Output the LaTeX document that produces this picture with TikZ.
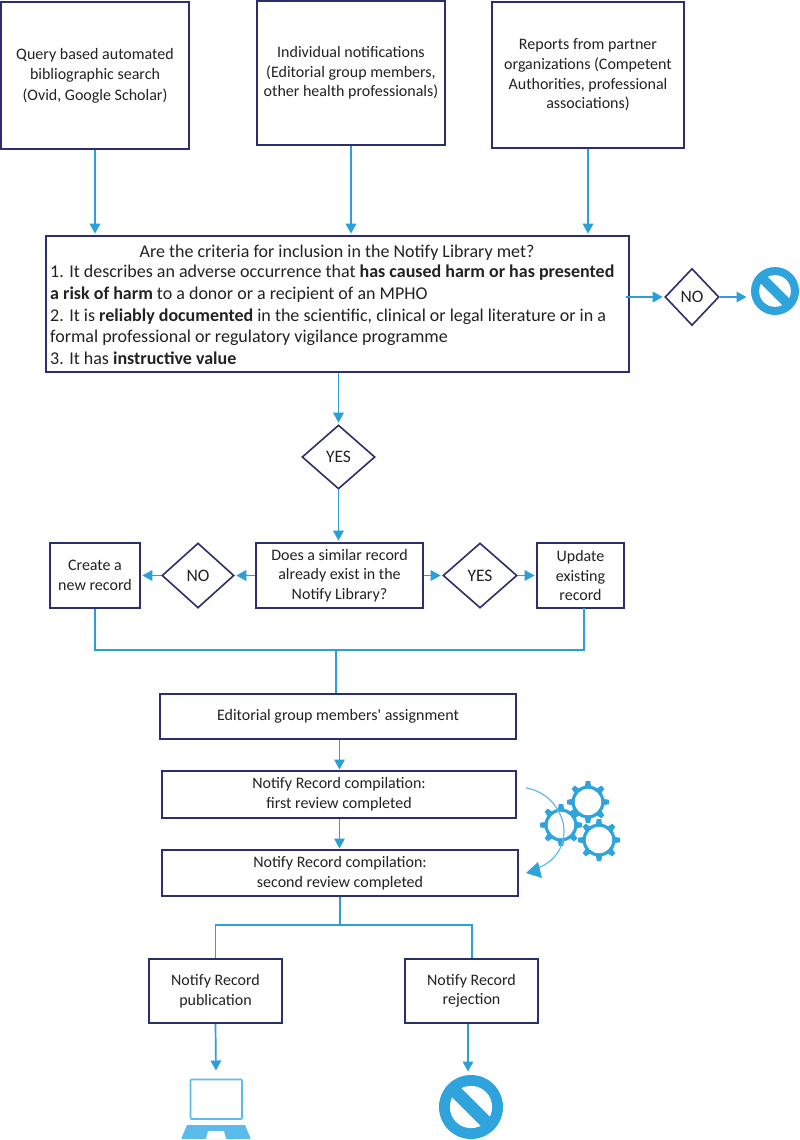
\documentclass[tikz,border=0pt]{standalone}
\usepackage{fontspec}
\setmainfont{Carlito}
\newfontfamily\plainf{Carlito}
\usetikzlibrary{shapes.geometric,arrows.meta,calc}
\definecolor{boxc}{HTML}{2B2F6B}
\definecolor{arrc}{HTML}{2A9FD8}
\definecolor{icon}{HTML}{2EA3DC}
\definecolor{lap}{HTML}{5ABBEC}
\definecolor{txt}{HTML}{222222}
\tikzset{
  x=1pt,y=-1pt,
  every node/.style={text=txt,font=\fontsize{16}{19.6}\selectfont},
  flowbox/.style={draw=boxc,line width=1.7pt,fill=white,rectangle,inner sep=0pt,align=center},
  choice/.style={draw=boxc,line width=1.6pt,fill=white,diamond,aspect=1,inner sep=0pt,font=\fontsize{17.5}{20}\selectfont},
  arr/.style={draw=arrc,line width=1.7pt,shorten >=1.5pt,-{Triangle[length=10pt,width=10.5pt]}},
  wire/.style={draw=arrc,line width=1.5pt},
  pics/stopsign/.style={code={
    \fill[icon] (0,0) circle[radius=#1];
    \fill[white] (0,0) circle[radius=0.66*#1];
    \fill[icon,rotate=-45] (-0.8*#1,-0.2*#1) rectangle (0.8*#1,0.2*#1);
  }},
  pics/gearicon/.style={code={
    \foreach \a in {0,45,...,315}{
      \fill[icon,rotate=\a] (-2.2,-21) -- (2.2,-21) -- (3.4,-14) -- (-3.4,-14) -- cycle;
    }
    \fill[icon] (0,0) circle[radius=16.5];
    \fill[white] (0,0) circle[radius=13.2];
  }},
}
\newcommand{\placebox}[6]{% name, x1,y1,x2,y2,text
  \node[flowbox,minimum width=#4pt-#2pt,minimum height=#5pt-#3pt] (#1) at ({(#2+#4)/2},{(#3+#5)/2}) {#6};}
\newcommand{\placechoice}[6]{% name,cx,cy,text,w,h
  \node[choice,minimum width=#5pt,minimum height=#6pt] (#1) at (#2,#3) {#4};}
\begin{document}
\begin{tikzpicture}
\useasboundingbox (0,0) rectangle (800,1140);
\placebox{srcA}{1}{2}{189}{149}{Query based automated\\[1pt] bibliographic search\\[1pt] (Ovid, Google Scholar)}
\placebox{srcB}{257}{1}{445}{145}{Individual notifications\\ (Editorial group members,\\ other health professionals)}
\placebox{srcC}{492}{2}{684}{148}{Reports from partner\\ organizations (Competent\\ Authorities, professional\\ associations)}
\node[flowbox,minimum width=583pt,minimum height=136pt] (crit) at (337.5,304) {};
\node[align=left,anchor=north west,font=\fontsize{18}{21.7}\selectfont,inner sep=0pt] (critxt) at (50,265) {%
1. It describes an adverse occurrence that \textbf{has caused harm or has presented}\\
\textbf{a risk of harm} to a donor or a recipient of an MPHO\\
2. It is \textbf{reliably documented} in the scientific, clinical or legal literature or in a\\
formal professional or regulatory vigilance programme\\
3. It has \textbf{instructive value}};
\node[font=\fontsize{18}{20}\selectfont,inner sep=0pt,anchor=base] (crith) at (337,257) {Are the criteria for inclusion in the Notify Library met?};
\placechoice{noA}{692}{297}{NO}{54}{57}
\placechoice{yesA}{338.5}{457}{YES}{73}{64}
\placebox{similar}{256}{543}{423}{608}{Does a similar record\\ already exist in the\\ Notify Library?}
\placebox{create}{50}{543}{140}{608}{Create a\\ new record}
\placebox{update}{537}{543}{624}{608}{Update\\ existing\\ record}
\placechoice{noB}{198}{575.5}{NO}{72}{65}
\placechoice{yesB}{480}{575.5}{YES}{74}{65}
\placebox{assign}{160}{694}{516}{739}{Editorial group members{\plainf '} assignment}
\placebox{first}{162}{771}{516}{818}{Notify Record compilation:\\ first review completed}
\placebox{second}{162}{850}{518}{896}{Notify Record compilation:\\ second review completed}
\placebox{pub}{149}{959}{282}{1023}{Notify Record\\ publication}
\placebox{rej}{405}{959}{538}{1023}{Notify Record\\ rejection}
% icons
\pic at (775,291) {stopsign=24};
\pic at (471,1107) {stopsign=32};
\coordinate (stopA) at (748,297);
\coordinate (stopB) at (468,1073);
\coordinate (lapTop) at (216,1072);
\coordinate (critOut) at (626,297);
\coordinate (joinTop) at (336,650);
\coordinate (splitPt) at (340,925);
\coordinate (updOut) at (584,608);
% connectors
\draw[arr] (srcA.south) -- (srcA.south |- crit.north);
\draw[arr] (srcB.south) -- (srcB.south |- crit.north);
\draw[arr] (srcC.south) -- (srcC.south |- crit.north);
\draw[arr] (critOut) -- (noA.west);
\draw[arr] (noA.east) -- (stopA);
\draw[arr] (crit.south -| yesA.north) -- (yesA.north);
\draw[arr] (yesA.south) -- (yesA.south |- similar.north);
\draw[arr] (similar.west |- noB.east) -- (noB.east);
\draw[arr] (noB.west) -- (create.east |- noB.west);
\draw[arr] (similar.east |- yesB.west) -- (yesB.west);
\draw[arr] (yesB.east) -- (update.west |- yesB.east);
\draw[wire] (create.south) |- (joinTop);
\draw[wire] (updOut) |- (joinTop);
\draw[wire] (joinTop) -- (joinTop |- assign.north);
\draw[arr] (assign.south -| 339.5,0) -- (339.5,771);
\draw[arr] (first.south -| 339.5,0) -- (339.5,850);
\draw[wire] (second.south -| splitPt) -- (splitPt);
\draw[wire] (pub.north) |- (splitPt);
\draw[wire] (rej.north -| 472,0) |- (splitPt);
\draw[arr] (pub.south) -- (lapTop);
\draw[arr] (rej.south -| stopB) -- (stopB);
% laptop
\draw[lap,line width=1.6pt,rounded corners=1pt,fill=white] (190.5,1079.5) rectangle (242,1119);
\fill[lap] (187,1125) -- (245,1125) -- (250.5,1138) -- (250,1139) -- (182,1139) -- (181.5,1138) -- cycle;
\fill[white] (208,1131) -- (224,1131) -- (226,1139) -- (206,1139) -- cycle;
% gears
\pic at (561,825) {gearicon};
\pic at (588,802) {gearicon};
\pic at (599,840) {gearicon};
\draw[icon!75,line width=1.2pt] (526,788) .. controls (545,791) and (558,805) .. (563,822) .. controls (567,842) and (558,860) .. (538,868);
\fill[icon] (526,873) -- (538,862) -- (542,878) -- cycle;
\end{tikzpicture}
\end{document}
